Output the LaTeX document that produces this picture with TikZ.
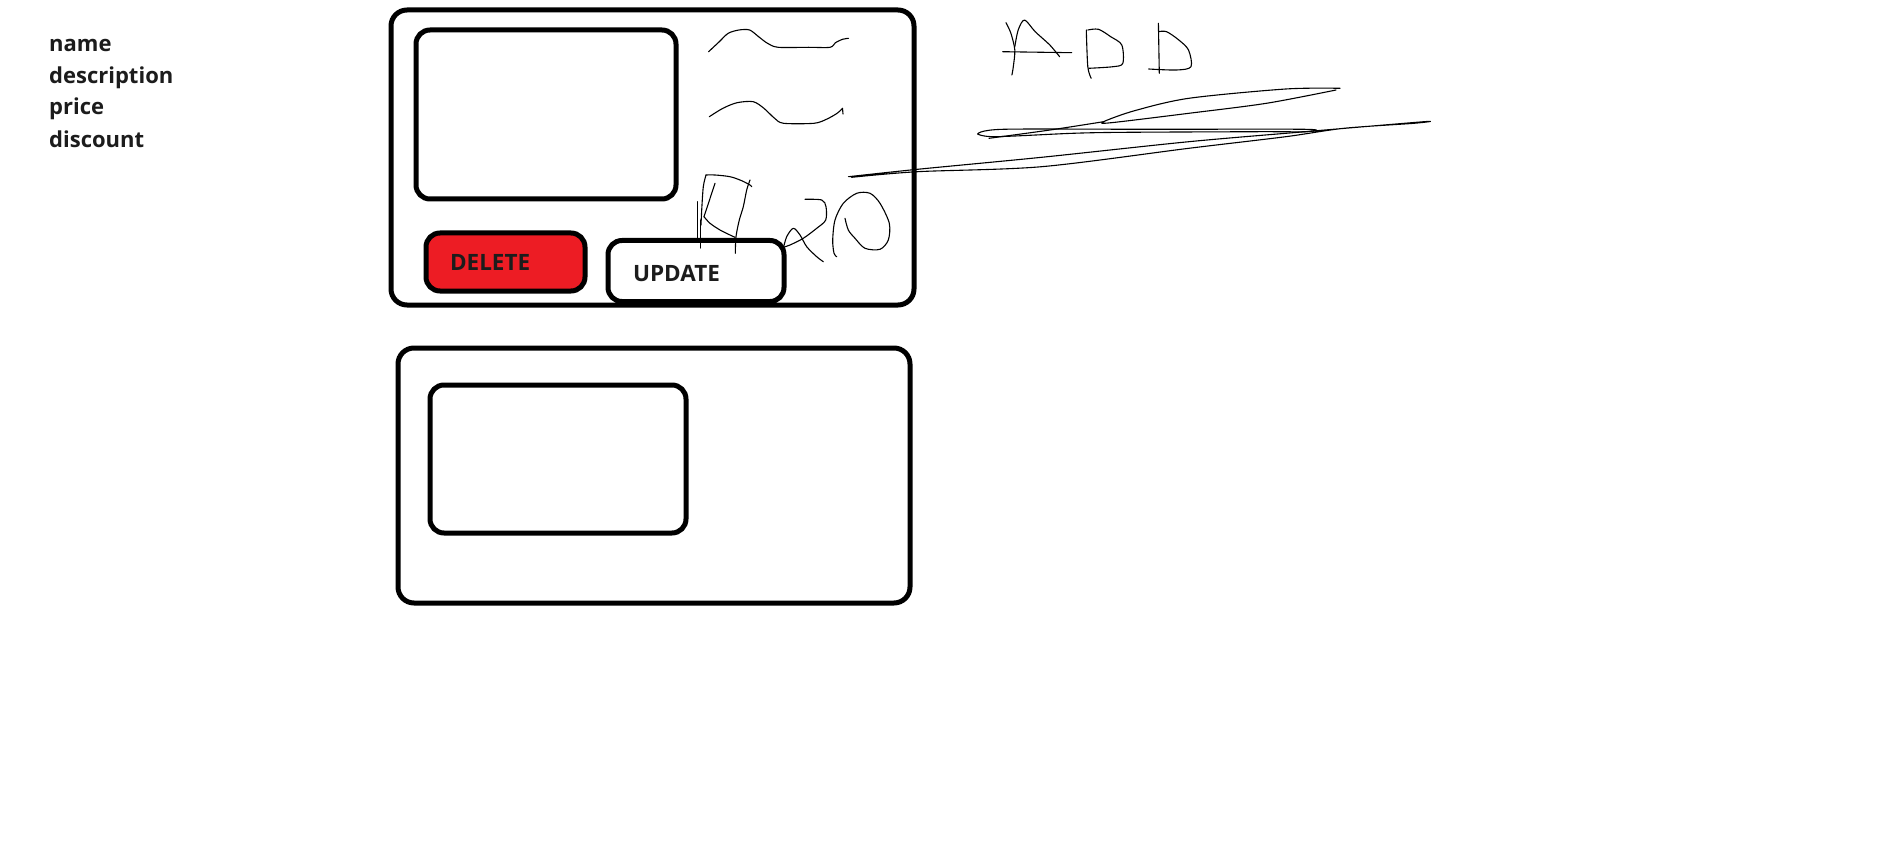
\documentclass[tikz,border=0pt]{standalone}
\usepackage{fontspec}
\setmainfont{Open Sans}
\definecolor{paintred}{HTML}{ED1C24}
\definecolor{txt}{HTML}{1C1C1C}
\tikzset{
  frame/.style={draw=black, line width=5pt, rounded corners=16pt, inner sep=0pt},
  btn/.style={draw=black, line width=5pt, rounded corners=14pt, minimum height=60pt,
    font=\bfseries\fontsize{22.5}{26}\selectfont, text=txt, align=left},
  field/.style={anchor=base west, inner sep=0pt, font=\bfseries\fontsize{22}{26}\selectfont, text=txt},
  scrib/.style={draw=black, line width=1.1pt, line join=round, line cap=round},
}
\begin{document}
\begin{tikzpicture}[x=1pt,y=-1pt]
\useasboundingbox (0,0) rectangle (1877,861);
\fill[white] (0,0) rectangle (1877,861);
% field list
\node[field] (fname) at (49,51.7) {name};
\node[field] (fdesc) at (49,83.7) {description};
\node[field] (fprice) at (49,114.3) {price};
\node[field] (fdisc) at (49,147.7) {discount};
% card 1
\node[frame, minimum width=523pt, minimum height=295pt] (card1) at (652.5,157.5) {};
\node[frame, rounded corners=14pt, minimum width=260pt, minimum height=169pt] (img1) at (546,114.5) {};
\node[btn, fill=paintred, minimum width=159pt, minimum height=58pt, inner xsep=24pt, text width=111pt] (delbtn) at (505.5,262) {DELETE};
\node[btn, fill=white, minimum width=176pt, minimum height=61pt, inner xsep=25pt, text width=126pt, text height=21pt, text depth=0pt] (updbtn) at (696,271) {UPDATE};
% card 2
\node[frame, minimum width=512pt, minimum height=255pt] (card2) at (654,475.5) {};
\node[frame, rounded corners=14pt, minimum width=256pt, minimum height=148pt] (img2) at (558,459) {};
% squiggles (name / description)
\draw[scrib] plot[smooth] coordinates {(708.6,51.7) (719.3,41.7) (728.2,33.3) (738.9,30) (749.6,30) (758.6,36.7) (767.5,43.3) (778.2,47.3) (808.6,47.3) (830,47.3) (835.4,42.7) (842.5,39.3) (848.6,38.3)};
\draw[scrib] plot[smooth] coordinates {(709.3,116.7) (722.9,108.3) (737.1,102.7) (753.2,101.7) (763.9,108.3) (774.6,118.3) (783.6,123.3) (813.9,123.3) (826.4,119.3) (837.1,113.3) (842.5,108.3)};
\draw[scrib] (842.5,108.3) -- (843,114);
% "R"
\draw[scrib] (697.3,201.7) -- (697.3,241.7);
\draw[scrib] (700.7,220) -- (700.7,248);
\draw[scrib] plot[smooth] coordinates {(706,175) (703.3,186.7) (701.7,210) (701,225)};
\draw[scrib] plot[smooth] coordinates {(706,175) (715,175) (730,176.7) (741.7,180.7) (750,185) (751.7,186.7)};
\draw[scrib] plot[smooth] coordinates {(750,180) (746.7,190) (743.3,206.7) (739.3,220) (736,236.7) (735.3,253.3)};
\draw[scrib] (715,183.3) -- (704,216.7);
\draw[scrib] plot[smooth] coordinates {(704,216.7) (710,223.3) (720,230) (730,235) (735,237.3)};
% "2" / "O"
\draw[scrib] plot[smooth] coordinates {(805,199.3) (821.7,200) (826,206.7) (825.7,220) (816.7,228.3) (803.3,238.3) (790,245) (783.3,247.3)};
\draw[scrib] plot[smooth] coordinates {(783.3,248.3) (786.7,236.7) (793.3,228.3) (800,235) (806.7,246.7) (816.7,256.7) (823.3,261.7)};
\draw[scrib] plot[smooth] coordinates {(845,218.3) (848.3,230) (855,238.3) (865,248.3) (880,249.3) (888.3,240) (889.3,223.3) (880,203.3) (870,193.3) (856.7,193.3) (843.3,203.3) (835,220) (832.7,240) (834,253.3) (836.7,256.7)};
% "ADD"
\draw[scrib] plot[smooth] coordinates {(1006,22.7) (1010.9,33.3) (1014.8,50) (1013.3,66.7) (1011.9,75)};
\draw[scrib] plot[smooth] coordinates {(1014.8,46.7) (1018.2,30) (1024.5,20) (1035.2,31.7) (1049.8,45) (1059.6,56.7)};
\draw[scrib] (1002.6,51.7) -- (1071.7,52.7);
\draw[scrib] plot[smooth] coordinates {(1086.3,30) (1087.8,66.7) (1091.2,78.3)};
\draw[scrib] plot[smooth] coordinates {(1087.8,30) (1098.5,29.3) (1110.7,36.7) (1121.8,45) (1122.8,63.3) (1113.1,66.7) (1088.8,68.3)};
\draw[scrib] (1158.4,23.3) -- (1159.3,73.3);
\draw[scrib] plot[smooth] coordinates {(1158.4,31.7) (1166.6,31.7) (1178.8,40) (1188.5,50) (1191,66.7) (1176.4,70) (1148.6,69)};
% long strokes
\draw[scrib] plot[smooth] coordinates {(1340,88.3) (1285.7,89) (1188.8,98.3) (1134.6,110.7) (1103.6,121.7) (1111.3,122.7) (1188.8,113.3) (1266.4,103.3) (1336,90)};
\draw[scrib] plot[smooth] coordinates {(989,138.3) (1050,130) (1103.6,121.7)};
\draw[scrib] plot[smooth] coordinates {(977.6,134) (1002.8,129.3) (1150,129.3) (1305,129.3) (1306.3,131.7) (1258.6,131.7) (1126.8,132.3) (1072.6,133.3) (995,136.7) (977.6,134)};
\draw[scrib] plot[smooth] coordinates {(848.5,176.7) (917.5,169.3) (1041.6,157.3) (1188.8,141.7) (1305,131.7) (1424,121.7) (1414,123.3) (1343.9,128.3) (1285.7,136.7) (1188.8,148.3) (1041.6,166.7) (917.5,171.7) (851.6,177.3)};
\end{tikzpicture}
\end{document}
